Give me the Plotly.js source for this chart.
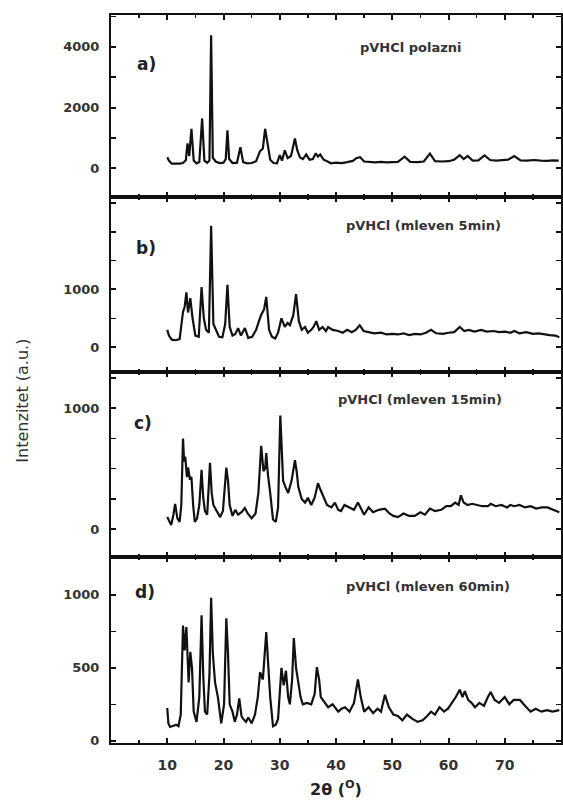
<!DOCTYPE html>
<html><head><meta charset="utf-8">
<script src="https://cdn.plot.ly/plotly-3.0.1.min.js"></script>
<style>body{margin:0;background:#fff}#chart{width:563px;height:807px}</style>
</head><body><div id="chart"></div>
<script>
// Panel a) pVHCl polazni
const xA = [10,10.3,10.8,11.5,12.2,12.8,13.3,13.6,13.9,14.3,14.7,15.2,15.7,16.2,16.6,17.1,17.5,17.8,18.1,18.6,19.3,20.0,20.4,20.7,21.0,21.6,22.4,23.0,23.5,24.2,25.0,25.8,26.5,27.0,27.4,27.8,28.3,28.9,29.5,30.0,30.4,30.9,31.4,32.0,32.7,33.1,33.6,34.1,34.7,35.3,35.9,36.4,36.8,37.2,37.8,38.5,39.1,40.0,41.0,42.0,43.0,43.6,44.3,45.0,46.0,47.0,48.0,49.0,50.0,51.0,52.2,53.2,54.5,55.6,56.7,57.6,58.8,60.0,61.0,62.0,62.7,63.4,64.3,65.3,66.4,67.4,68.5,69.6,70.6,71.7,72.8,74.0,75.2,76.4,77.5,78.6,79.6];
const yA = [360,250,150,140,150,170,260,820,400,1300,250,160,200,1640,250,180,250,4380,350,220,170,180,300,1250,300,170,180,690,200,160,170,230,560,650,1300,850,280,170,160,430,250,590,330,400,980,600,350,300,450,280,300,490,380,450,280,220,160,180,170,200,240,330,360,220,200,190,210,190,200,210,380,210,200,220,480,230,220,230,280,430,300,400,250,260,420,270,250,260,280,400,260,250,270,250,240,260,250];

// Panel b) pVHCl (mleven 5min)
const xB = [10,10.3,10.8,11.5,12.2,12.8,13.1,13.4,13.7,14.1,14.5,15.0,15.6,16.1,16.5,16.9,17.4,17.8,18.2,18.6,19.2,19.8,20.3,20.7,21.1,21.6,22.1,22.6,23.1,23.8,24.4,25.1,25.8,26.3,26.7,27.2,27.6,28.1,28.6,29.2,29.7,30.3,30.9,31.4,31.8,32.4,32.9,33.4,33.9,34.5,35.0,35.6,36.0,36.5,37.0,37.6,38.2,38.6,39.4,40.4,41.2,42.0,42.8,43.5,44.2,44.9,45.8,46.8,48.0,49.0,50.0,51.0,52.0,53.0,54.0,55.0,56.0,56.9,57.8,59.0,60.0,61.0,62.0,62.8,63.6,64.6,65.8,66.8,68.0,69.0,70.0,71.0,71.7,72.6,73.8,75.0,76.0,77.0,78.0,79.0,79.7];
const yB = [300,200,130,120,140,610,700,950,600,850,500,200,180,1040,500,300,250,2100,400,300,180,170,400,1080,350,200,230,330,200,330,160,180,300,450,560,650,870,300,180,150,250,500,350,420,380,550,920,450,300,350,250,300,350,450,300,350,280,350,300,280,250,300,260,300,380,280,260,240,250,220,230,220,240,210,230,220,250,300,240,230,250,260,350,280,300,270,300,270,280,260,270,250,280,240,260,230,240,220,210,200,170];

// Panel c) pVHCl (mleven 15min)
const xC = [10,10.4,10.7,11.1,11.4,11.8,12.2,12.5,12.8,13.0,13.2,13.5,13.7,14.0,14.3,14.6,14.9,15.3,15.7,16.1,16.4,16.7,17.1,17.6,17.9,18.2,18.7,19.4,19.9,20.5,20.8,21.1,21.6,22.1,22.6,23.2,23.8,24.3,25.0,25.7,26.2,26.7,27.1,27.4,27.6,27.9,28.3,28.8,29.3,29.7,30.1,30.4,30.6,31.0,31.5,32.1,32.7,33.0,33.3,33.9,34.5,35.0,35.6,36.2,36.8,37.2,37.7,38.4,39.2,39.8,40.4,40.9,41.5,42.3,43.2,43.9,44.4,45.0,45.8,46.6,47.6,48.7,49.5,50.2,51.0,52.0,53.0,54.0,55.0,55.8,56.7,57.6,58.7,59.6,60.4,61.2,61.8,62.2,62.7,63.4,64.2,65.0,66.0,67.0,67.5,68.4,69.4,70.4,71.0,71.7,72.6,73.6,74.6,75.6,76.6,77.6,78.6,79.7];
const yC = [100,60,35,120,210,90,60,200,750,560,600,430,510,420,430,200,60,90,200,490,260,150,120,550,300,200,160,100,150,510,400,200,110,160,120,140,175,130,90,130,300,690,480,500,630,450,300,80,60,180,940,500,400,350,300,400,570,480,350,250,220,260,200,260,380,330,280,200,180,220,160,150,200,180,160,220,180,120,180,140,160,170,130,110,100,130,110,110,140,120,170,150,160,190,190,220,200,280,220,200,210,200,190,190,210,190,200,180,200,190,200,180,190,170,180,180,160,140];

// Panel d) pVHCl (mleven 60min)
const xD = [10,10.2,10.5,11.0,11.6,12.0,12.4,12.8,13.1,13.4,13.8,14.1,14.4,14.7,15.2,15.7,16.1,16.4,16.7,17.1,17.5,17.8,18.1,18.5,19.0,19.6,20.1,20.5,20.8,21.1,21.6,22.0,22.4,22.8,23.2,23.5,24.0,24.4,25.0,25.6,26.1,26.5,27.0,27.6,28.0,28.3,28.8,29.3,29.7,30.3,30.7,31.1,31.5,31.8,32.2,32.5,32.9,33.3,33.7,34.1,34.8,35.6,36.2,36.6,37.0,37.3,38.0,38.6,39.4,40.4,41.0,41.6,42.4,43.2,43.9,44.4,45.0,45.8,46.6,47.4,48.0,48.7,49.4,50.2,51.0,51.8,52.6,53.6,54.5,55.4,56.2,56.9,57.6,58.4,59.2,59.9,60.6,61.3,62.0,62.5,62.9,63.5,64.1,64.7,65.5,66.3,67.0,67.5,68.2,69.0,70.0,70.8,71.6,72.7,73.6,74.6,75.5,76.5,77.5,78.5,79.7];
const yD = [225,120,95,100,110,100,180,790,620,780,400,610,500,200,130,300,860,450,200,180,450,980,600,400,300,120,250,840,600,250,200,130,180,290,170,150,130,160,120,180,300,470,420,745,500,300,100,110,150,500,380,480,300,250,420,705,500,400,300,250,260,250,320,505,420,300,260,230,250,200,220,230,200,260,420,300,200,230,190,220,200,315,230,180,170,140,180,150,130,140,170,200,180,230,200,220,260,300,350,300,340,280,260,230,260,240,300,335,280,260,300,250,280,280,240,200,220,200,210,200,210];

const xTicks = [10,20,30,40,50,60,70];
const xTickText = ['10','20','30','40','50','60','70'];
const yTicksA = [0,2000,4000], yTextA = ['0','2000','4000'];
const yTicksB = [0,1000,2000], yTextB = ['0','1000',' '];
const yTicksC = [0,1000], yTextC = ['0','1000'];
const yTicksD = [0,500,1000], yTextD = ['0','500','1000'];

const FAM = 'DejaVu Sans, Verdana, sans-serif';
const yTickFont = {family:FAM, size:13, color:'#333', weight:'bold'};
const xTickFont = {family:FAM, size:14, color:'#333', weight:'bold'};
const lineStyle = {color:'#111', width:2.2};

const data = [
  {x:xA, y:yA, xaxis:'x4', yaxis:'y4', mode:'lines', line:lineStyle},
  {x:xB, y:yB, xaxis:'x3', yaxis:'y3', mode:'lines', line:lineStyle},
  {x:xC, y:yC, xaxis:'x2', yaxis:'y2', mode:'lines', line:lineStyle},
  {x:xD, y:yD, xaxis:'x', yaxis:'y', mode:'lines', line:lineStyle}
];

const H = 728;
const dD = [0, 186/H], dC = [186/H, 371/H], dB = [371/H, 546/H], dA = [546/H, 1];

function xax(anchor, showLabels) {
  return {
    anchor: anchor, range:[0,80], showline:true, linecolor:'#111', linewidth:2, mirror:'ticks',
    ticks:'inside', ticklen:5, tickwidth:2, tickcolor:'#111',
    tickvals:xTicks, ticktext:xTickText, showticklabels:showLabels, ticklabelstandoff:8,
    minor:{dtick:5, tick0:0, ticks:'inside', ticklen:3, tickwidth:1.5, tickcolor:'#111'},
    showgrid:false, zeroline:false, tickfont:xTickFont
  };
}
function yax(domain, range, tv, tt, mdtick) {
  return {
    domain: domain, range: range, showline:true, linecolor:'#111', linewidth:2, mirror:'ticks',
    ticks:'inside', ticklen:5, tickwidth:2, tickcolor:'#111', tickvals:tv, ticktext:tt,
    minor:{dtick:mdtick, tick0:0, ticks:'inside', ticklen:5, tickwidth:1.5, tickcolor:'#111'},
    showgrid:false, zeroline:false, tickfont:yTickFont, ticklabelstandoff:7
  };
}

const xa = xax('y', true);
xa.title = {text:'2θ (<sup>O</sup>)', font:{family:FAM, size:16, color:'#222', weight:'bold'}, standoff:12};
const labelFont = {family:FAM, size:17, color:'#222', weight:'bold'};
const nameFont = {family:FAM, size:13, color:'#333', weight:'bold'};

const layout = {
  width:563, height:807,
  margin:{l:111, r:2, t:15, b:64},
  paper_bgcolor:'#fff', plot_bgcolor:'#fff',
  showlegend:false,
  xaxis: xa,
  xaxis2: Object.assign(xax('y2', false), {matches:'x'}),
  xaxis3: Object.assign(xax('y3', false), {matches:'x'}),
  xaxis4: Object.assign(xax('y4', false), {matches:'x'}),
  yaxis: yax(dD, [-15, 1260], yTicksD, yTextD, 250),
  yaxis2: yax(dC, [-230, 1300], yTicksC, yTextC, 250),
  yaxis3: yax(dB, [-430, 2600], yTicksB, yTextB, 500),
  yaxis4: yax(dA, [-950, 5050], yTicksA, yTextA, 1000),
  annotations: [
    {text:'a)', xref:'x4', yref:'y4', x:6.3, y:3450, showarrow:false, font:labelFont},
    {text:'b)', xref:'x3', yref:'y3', x:6.3, y:1720, showarrow:false, font:labelFont},
    {text:'c)', xref:'x2', yref:'y2', x:5.6, y:880, showarrow:false, font:labelFont},
    {text:'d)', xref:'x', yref:'y', x:6.0, y:1020, showarrow:false, font:labelFont},
    {text:'pVHCl polazni', xref:'x4', yref:'y4', x:53.3, y:3970, showarrow:false, font:nameFont},
    {text:'pVHCl (mleven 5min)', xref:'x3', yref:'y3', x:55.5, y:2100, showarrow:false, font:nameFont},
    {text:'pVHCl (mleven 15min)', xref:'x2', yref:'y2', x:55, y:1070, showarrow:false, font:nameFont},
    {text:'pVHCl (mleven 60min)', xref:'x', yref:'y', x:56.3, y:1060, showarrow:false, font:nameFont},
    {text:'Intenzitet (a.u.)', xref:'paper', yref:'paper', x:-0.196, xanchor:'center', y:0.47, yanchor:'middle', textangle:-90, showarrow:false,
     font:{family:FAM, size:16, color:'#333'}}
  ]
};

Plotly.newPlot('chart', data, layout, {displayModeBar:false, staticPlot:true});
</script></body></html>
